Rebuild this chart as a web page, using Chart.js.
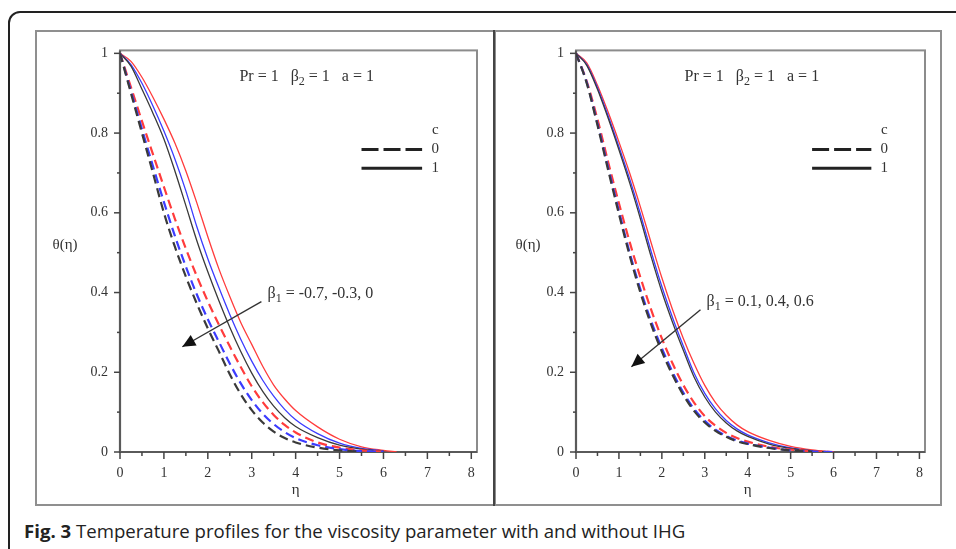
<!DOCTYPE html>
<html><head><meta charset="utf-8">
<script src="https://cdn.jsdelivr.net/npm/chart.js@4"></script>
<style>
html,body{margin:0;padding:0;background:#fff;width:956px;height:549px;overflow:hidden;position:relative}
#outer{position:absolute;left:8px;top:11px;width:1000px;height:600px;border:2px solid #222;border-radius:12px;box-sizing:border-box}
.frame{position:absolute;top:30px;height:476px;box-sizing:border-box;border:2px solid #8f8f8f}
#f1{left:35px;width:460px}
#f2{left:494px;width:448px}
#div{position:absolute;left:493px;top:30px;width:2px;height:476px;background:#444}
canvas{position:absolute}
#caption{position:absolute;left:24px;top:518px;font-family:"Open Sans",sans-serif;font-size:18.6px;color:#222;white-space:nowrap}
#caption b{font-weight:700}
</style></head><body>
<div id="outer"></div>
<div class="frame" id="f1"></div><div class="frame" id="f2"></div><div id="div"></div>
<canvas id="c1" width="459" height="475" style="left:35px;top:30px"></canvas>
<canvas id="c2" width="447" height="475" style="left:494px;top:30px"></canvas>
<div id="caption"><b>Fig. 3</b> Temperature profiles for the viscosity parameter with and without IHG</div>
<script>
// ---------- data ----------
const etaGrid = [0,0.25,0.5,0.75,1,1.25,1.5,1.75,2,2.25,2.5,2.75,3,3.25,3.5,3.75,4,4.5,5,5.5,6,6.3];
const xTickValues = [0,1,2,3,4,5,6,7,8];
const yTickValues = [0,0.2,0.4,0.6,0.8,1];
const cValues = ['0','1'];
const leftBeta1 = ['-0.7','-0.3','0'];
const rightBeta1 = ['0.1','0.4','0.6'];

// left panel (c = 0 dashed, c = 1 solid); red, blue, black = beta1 values in order
const leftDashRed   = [1,0.915,0.83,0.747,0.665,0.585,0.51,0.441,0.378,0.32,0.265,0.213,0.165,0.125,0.093,0.068,0.049,0.024,0.011,0.004,0.001,null];
const leftDashBlue  = [1,0.905,0.81,0.717,0.627,0.542,0.465,0.395,0.333,0.277,0.222,0.172,0.13,0.096,0.07,0.05,0.035,0.017,0.007,0.002,0.0005,null];
const leftDashBlack = [1,0.90,0.80,0.70,0.60,0.515,0.44,0.372,0.31,0.253,0.195,0.145,0.105,0.074,0.051,0.035,0.024,0.011,0.004,0.001,null,null];
const leftSolidRed   = [1,0.98,0.94,0.89,0.835,0.775,0.705,0.625,0.54,0.46,0.39,0.325,0.27,0.215,0.168,0.133,0.104,0.063,0.032,0.013,0.004,0];
const leftSolidBlue  = [1,0.972,0.925,0.868,0.805,0.735,0.655,0.565,0.485,0.413,0.345,0.283,0.228,0.18,0.14,0.107,0.081,0.046,0.022,0.009,0.003,null];
const leftSolidBlack = [1,0.968,0.91,0.85,0.785,0.705,0.618,0.53,0.452,0.38,0.313,0.252,0.198,0.152,0.115,0.086,0.064,0.036,0.017,0.007,0.002,null];

// right panel
const rightDashRed   = [1,0.93,0.835,0.727,0.624,0.527,0.438,0.357,0.285,0.222,0.168,0.124,0.09,0.066,0.048,0.035,0.026,0.013,0.006,0.002,0,null];
const rightDashBlue  = [1,0.927,0.824,0.713,0.604,0.5,0.408,0.328,0.26,0.2,0.149,0.108,0.078,0.056,0.04,0.029,0.021,0.011,0.004,0.001,0,null];
const rightDashBlack = [1,0.925,0.82,0.707,0.597,0.493,0.40,0.32,0.252,0.193,0.143,0.103,0.074,0.053,0.038,0.027,0.02,0.01,0.004,0,null,null];
const rightSolidRed   = [1,0.976,0.92,0.852,0.778,0.70,0.615,0.525,0.437,0.357,0.285,0.222,0.167,0.124,0.092,0.068,0.051,0.029,0.014,0.005,0,null];
const rightSolidBlue  = [1,0.972,0.914,0.843,0.766,0.685,0.597,0.503,0.415,0.337,0.266,0.198,0.147,0.108,0.079,0.058,0.043,0.023,0.01,0.003,0,null];
const rightSolidBlack = [1,0.97,0.91,0.837,0.758,0.675,0.585,0.49,0.402,0.325,0.255,0.188,0.138,0.10,0.073,0.053,0.039,0.02,0.009,0.003,0,null];

// ---------- styling ----------
const RED = '#ff3c3c', BLUE = '#3c3cff', BLACK = '#3a3a3a';
const SERIF = '"Liberation Serif", "Times New Roman", serif';
const TXT = '#333';

function series(arr){ return etaGrid.map((x,i)=>({x:x, y:arr[i]})); }
function ds(label, arr, color, dashed){
  return {label, data: series(arr), borderColor: color, backgroundColor: color,
    borderWidth: dashed ? 2.2 : 1.3, borderDash: dashed ? [9,5] : [],
    pointRadius: 0, cubicInterpolationMode: 'monotone', spanGaps: false, fill: false};
}

function richText(ctx, parts, x, y, size){
  let cx = x;
  for (const p of parts){
    ctx.font = (p.sub ? Math.round(size*0.72) + 'px ' : size + 'px ') + SERIF;
    ctx.fillText(p.t, cx, y + (p.sub ? 5 : 0));
    cx += ctx.measureText(p.t).width;
  }
}

function panelPlugin(o){
  return {
    id: 'panel',
    beforeDatasetsDraw(chart){
      const ctx = chart.ctx, a = chart.chartArea;
      ctx.save();
      ctx.strokeStyle = '#8c8c8c'; ctx.lineWidth = 2;
      ctx.strokeRect(a.left, a.top, a.right - a.left, a.bottom - a.top);
      ctx.strokeStyle = '#5a5a5a'; ctx.lineWidth = 2.2;
      ctx.beginPath(); ctx.moveTo(a.left, a.top); ctx.lineTo(a.left, a.bottom); ctx.lineTo(a.right, a.bottom); ctx.stroke();
      ctx.restore();
    },
    afterDraw(chart){
      const ctx = chart.ctx, a = chart.chartArea, xs = chart.scales.x, ys = chart.scales.y;
      const X = v => xs.getPixelForValue(v), Y = v => ys.getPixelForValue(v);
      ctx.save();
      // ticks
      ctx.strokeStyle = '#444'; ctx.lineWidth = 1.5;
      for (let v = 0; v <= 8.001; v += 0.5){
        const major = Math.abs(v - Math.round(v)) < 1e-6;
        ctx.beginPath(); ctx.moveTo(X(v), a.bottom); ctx.lineTo(X(v), a.bottom + (major ? 7 : 4)); ctx.stroke();
      }
      for (let v = 0; v <= 1.001; v += 0.1){
        const major = Math.round(v*10) % 2 === 0;
        ctx.beginPath(); ctx.moveTo(a.left, Y(v)); ctx.lineTo(a.left - (major ? 6 : 3), Y(v)); ctx.stroke();
      }
      ctx.fillStyle = TXT; ctx.textBaseline = 'middle';
      // axis labels
      ctx.font = '15px ' + SERIF; ctx.textAlign = 'center';
      ctx.fillText('θ(η)', a.left - o.yLabelOff, Y(0.52));
      ctx.fillText('η', X(4), a.bottom + 38);
      // parameter text
      ctx.textAlign = 'left';
      richText(ctx, [{t:'Pr = 1   β'},{t:'2',sub:true},{t:' = 1   a = 1'}], X(o.prX), Y(0.941), 16);
      // legend
      ctx.textAlign = 'center'; ctx.font = '15px ' + SERIF;
      ctx.fillText('c', X(7.18), Y(0.808));
      ctx.fillText(cValues[0], X(7.18), Y(0.759));
      ctx.fillText(cValues[1], X(7.18), Y(0.712));
      ctx.strokeStyle = '#222'; ctx.lineWidth = 3;
      ctx.setLineDash([17,5]);
      ctx.beginPath(); ctx.moveTo(X(5.5), Y(0.759)); ctx.lineTo(X(6.88), Y(0.759)); ctx.stroke();
      ctx.setLineDash([]);
      ctx.beginPath(); ctx.moveTo(X(5.5), Y(0.712)); ctx.lineTo(X(6.88), Y(0.712)); ctx.stroke();
      // arrow
      const x1 = X(o.arrow[0]), y1 = Y(o.arrow[1]), x2 = X(o.arrow[2]), y2 = Y(o.arrow[3]);
      ctx.strokeStyle = '#333'; ctx.lineWidth = 1.4;
      ctx.beginPath(); ctx.moveTo(x1, y1); ctx.lineTo(x2, y2); ctx.stroke();
      const ang = Math.atan2(y2 - y1, x2 - x1), L = 13, W = 6;
      ctx.fillStyle = '#111';
      ctx.beginPath();
      ctx.moveTo(x2, y2);
      ctx.lineTo(x2 - L*Math.cos(ang) + W*Math.sin(ang), y2 - L*Math.sin(ang) - W*Math.cos(ang));
      ctx.lineTo(x2 - L*Math.cos(ang) - W*Math.sin(ang), y2 - L*Math.sin(ang) + W*Math.cos(ang));
      ctx.closePath(); ctx.fill();
      // beta1 label
      ctx.fillStyle = TXT; ctx.textAlign = 'left';
      richText(ctx, [{t:'β'},{t:'1',sub:true},{t:' = ' + o.betas.join(', ')}], X(o.betaPos[0]), Y(o.betaPos[1]), 16);
      ctx.restore();
    }
  };
}

function makeChart(id, sets, o){
  new Chart(document.getElementById(id), {
    type: 'line',
    data: { datasets: [
      ds('c=0, β1=' + o.betas[2], sets[2], BLACK, true),
      ds('c=0, β1=' + o.betas[1], sets[1], BLUE, true),
      ds('c=0, β1=' + o.betas[0], sets[0], RED, true),
      ds('c=1, β1=' + o.betas[2], sets[5], BLACK, false),
      ds('c=1, β1=' + o.betas[1], sets[4], BLUE, false),
      ds('c=1, β1=' + o.betas[0], sets[3], RED, false)
    ]},
    options: {
      responsive: false, animation: false, devicePixelRatio: 1,
      layout: { padding: { left: 0, top: 13, right: o.padRight, bottom: 0 } },
      plugins: { legend: { display: false }, tooltip: { enabled: false }, title: { display: false } },
      scales: {
        x: { type: 'linear', min: 0, max: 8.13,
          afterBuildTicks: s => { s.ticks = xTickValues.map(v => ({value: v})); },
          afterFit: s => { s.height = 53; },
          grid: { display: false, drawTicks: false }, border: { display: false },
          ticks: { padding: 13, color: TXT, font: { family: SERIF, size: 14 }, maxRotation: 0, autoSkip: false,
            callback: v => String(v) } },
        y: { type: 'linear', min: 0, max: 1.0074,
          afterBuildTicks: s => { s.ticks = yTickValues.map(v => ({value: v})); },
          afterFit: s => { s.width = o.yWidth; },
          grid: { display: false, drawTicks: false }, border: { display: false },
          ticks: { padding: 12, color: TXT, font: { family: SERIF, size: 14 }, autoSkip: false,
            callback: v => String(+v.toFixed(1)) } }
      }
    },
    plugins: [panelPlugin(o)]
  });
}

makeChart('c1', [leftDashRed, leftDashBlue, leftDashBlack, leftSolidRed, leftSolidBlue, leftSolidBlack],
  { betas: leftBeta1, padRight: 17, yWidth: 85, yLabelOff: 55, prX: 2.72,
    arrow: [3.22, 0.377, 1.42, 0.264], betaPos: [3.36, 0.397] });
makeChart('c2', [rightDashRed, rightDashBlue, rightDashBlack, rightSolidRed, rightSolidBlue, rightSolidBlack],
  { betas: rightBeta1, padRight: 16, yWidth: 82, yLabelOff: 48, prX: 2.53,
    arrow: [2.90, 0.357, 1.29, 0.214], betaPos: [3.04, 0.377] });
</script>
</body></html>
